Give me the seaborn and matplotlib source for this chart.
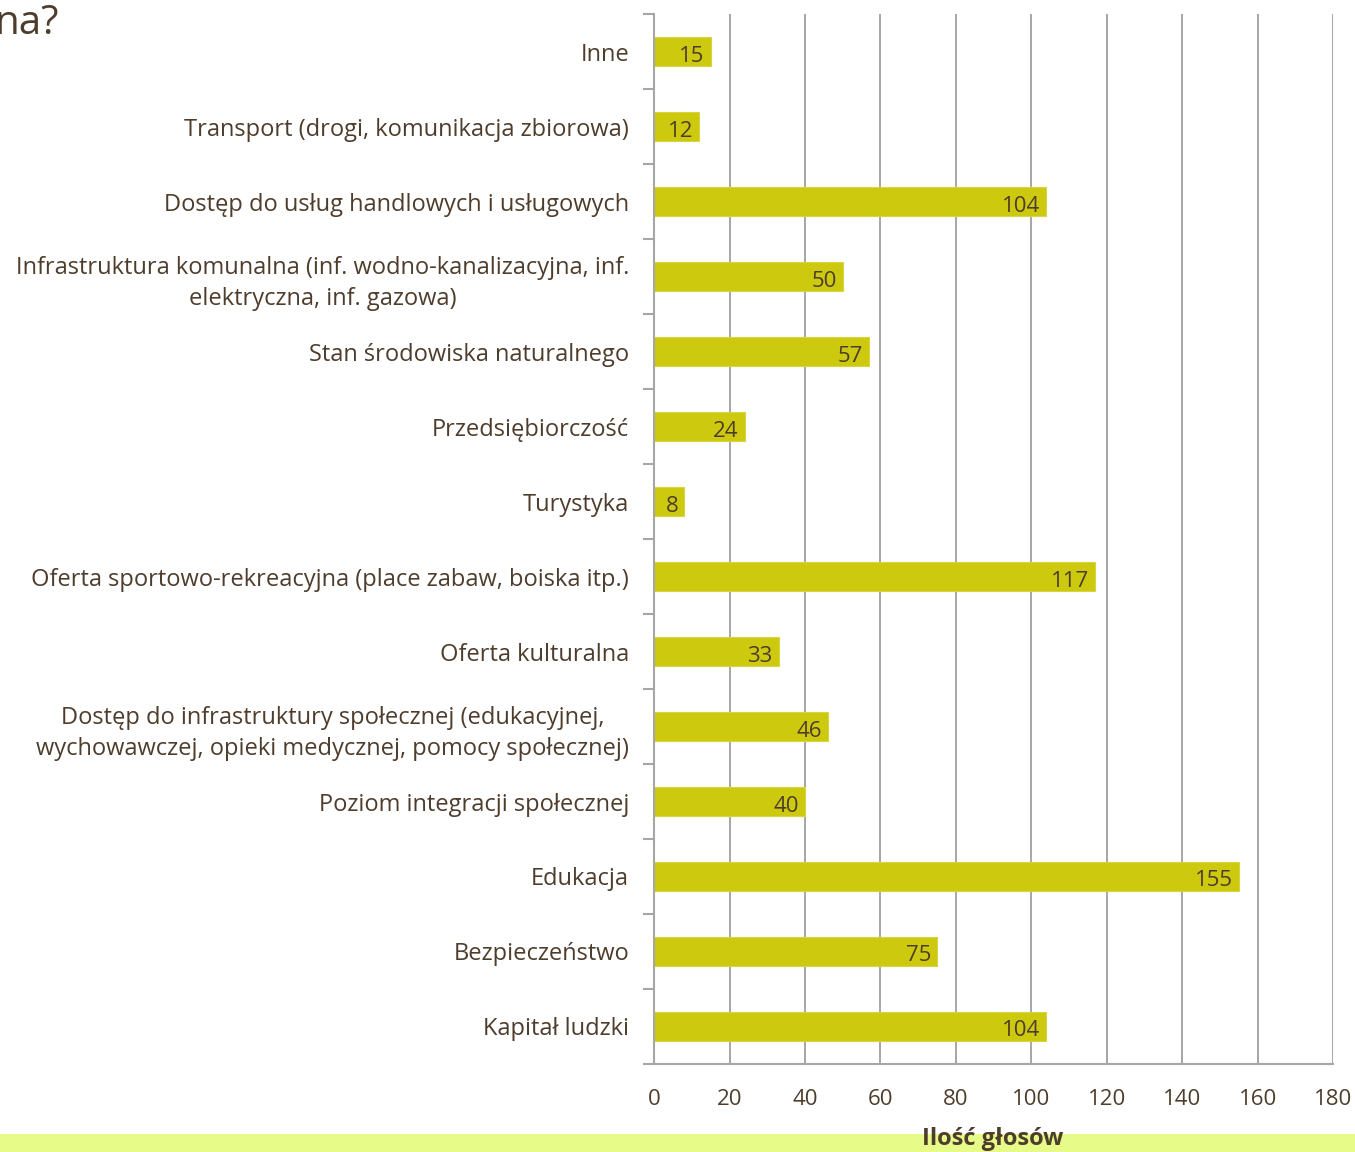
"""Horizontal bar chart: number of votes per area (Ilość głosów)."""

import matplotlib.pyplot as plt
import numpy as np
import pandas as pd
import seaborn as sns
from matplotlib.patches import Rectangle

categories = [
    "Inne",
    "Transport (drogi, komunikacja zbiorowa)",
    "Dostęp do usług handlowych i usługowych",
    "Infrastruktura komunalna (inf. wodno-kanalizacyjna, inf.\nelektryczna, inf. gazowa)",
    "Stan środowiska naturalnego",
    "Przedsiębiorczość",
    "Turystyka",
    "Oferta sportowo-rekreacyjna (place zabaw, boiska itp.)",
    "Oferta kulturalna",
    "Dostęp do infrastruktury społecznej (edukacyjnej,\nwychowawczej, opieki medycznej, pomocy społecznej)",
    "Poziom integracji społecznej",
    "Edukacja",
    "Bezpieczeństwo",
    "Kapitał ludzki",
]
votes = [15, 12, 104, 50, 57, 24, 8, 117, 33, 46, 40, 155, 75, 104]
x_ticks = [0, 20, 40, 60, 80, 100, 120, 140, 160, 180]

TEXT = "#4e3d2c"
BAR = "#cdc90f"
GRID = "#a6a6a6"

sns.set_theme(style="white")
plt.rcParams["font.family"] = ["Open Sans", "DejaVu Sans"]

df = pd.DataFrame({"kategoria": categories, "glosy": votes})

fig = plt.figure(figsize=(13.55, 11.52), dpi=100)
ax = fig.add_axes([0.4827, 0.0764, 0.5011, 0.9114])

sns.barplot(data=df, x="glosy", y="kategoria", orient="h", color=BAR,
            saturation=1, width=0.39, edgecolor="#d8d540", linewidth=0.8, ax=ax)

ax.set_xlim(0, 180)
ax.set_ylim(len(categories) - 0.5, -0.5)
ax.set_xticks(x_ticks)
ax.set_xticklabels([str(t) for t in x_ticks], fontsize=16, color=TEXT)
ax.tick_params(axis="x", length=8, width=1.5, color=GRID, pad=10, direction="out")
ax.set_yticks(np.arange(len(categories)))
ax.set_yticklabels(categories, fontsize=17, color=TEXT, multialignment="center",
                   linespacing=1.4)
ax.tick_params(axis="y", which="major", length=0, pad=18)
ax.set_yticks(np.arange(len(categories) + 1) - 0.5, minor=True)
ax.tick_params(axis="y", which="minor", length=8, width=1.5, color=GRID, left=True)
ax.set_xlabel("")
ax.set_ylabel("")

ax.grid(axis="x", color=GRID, linewidth=1.4)
ax.set_axisbelow(True)
for side in ["top", "right"]:
    ax.spines[side].set_visible(False)
for side in ["left", "bottom"]:
    ax.spines[side].set_color(GRID)
    ax.spines[side].set_linewidth(1.5)

# value labels inside the bar ends
for i, v in enumerate(votes):
    ax.text(v - 1.6, i + 0.06, str(v), ha="right", va="center",
            fontsize=16, color=TEXT)

# light strip at the bottom with axis title
fig.patches.append(Rectangle((0, 0), 1, 18 / 1152, transform=fig.transFigure,
                             facecolor="#e6fb88", edgecolor="none", zorder=0))
fig.text(993 / 1355, 13 / 1152, "Ilość głosów", ha="center", va="center",
         fontsize=17, fontweight="bold", color=TEXT)

# title fragment cut off at the left edge
fig.text(-0.004, 0.997, "na?", ha="left", va="top", fontsize=29, color=TEXT)

fig.savefig("out.png", dpi=100)
